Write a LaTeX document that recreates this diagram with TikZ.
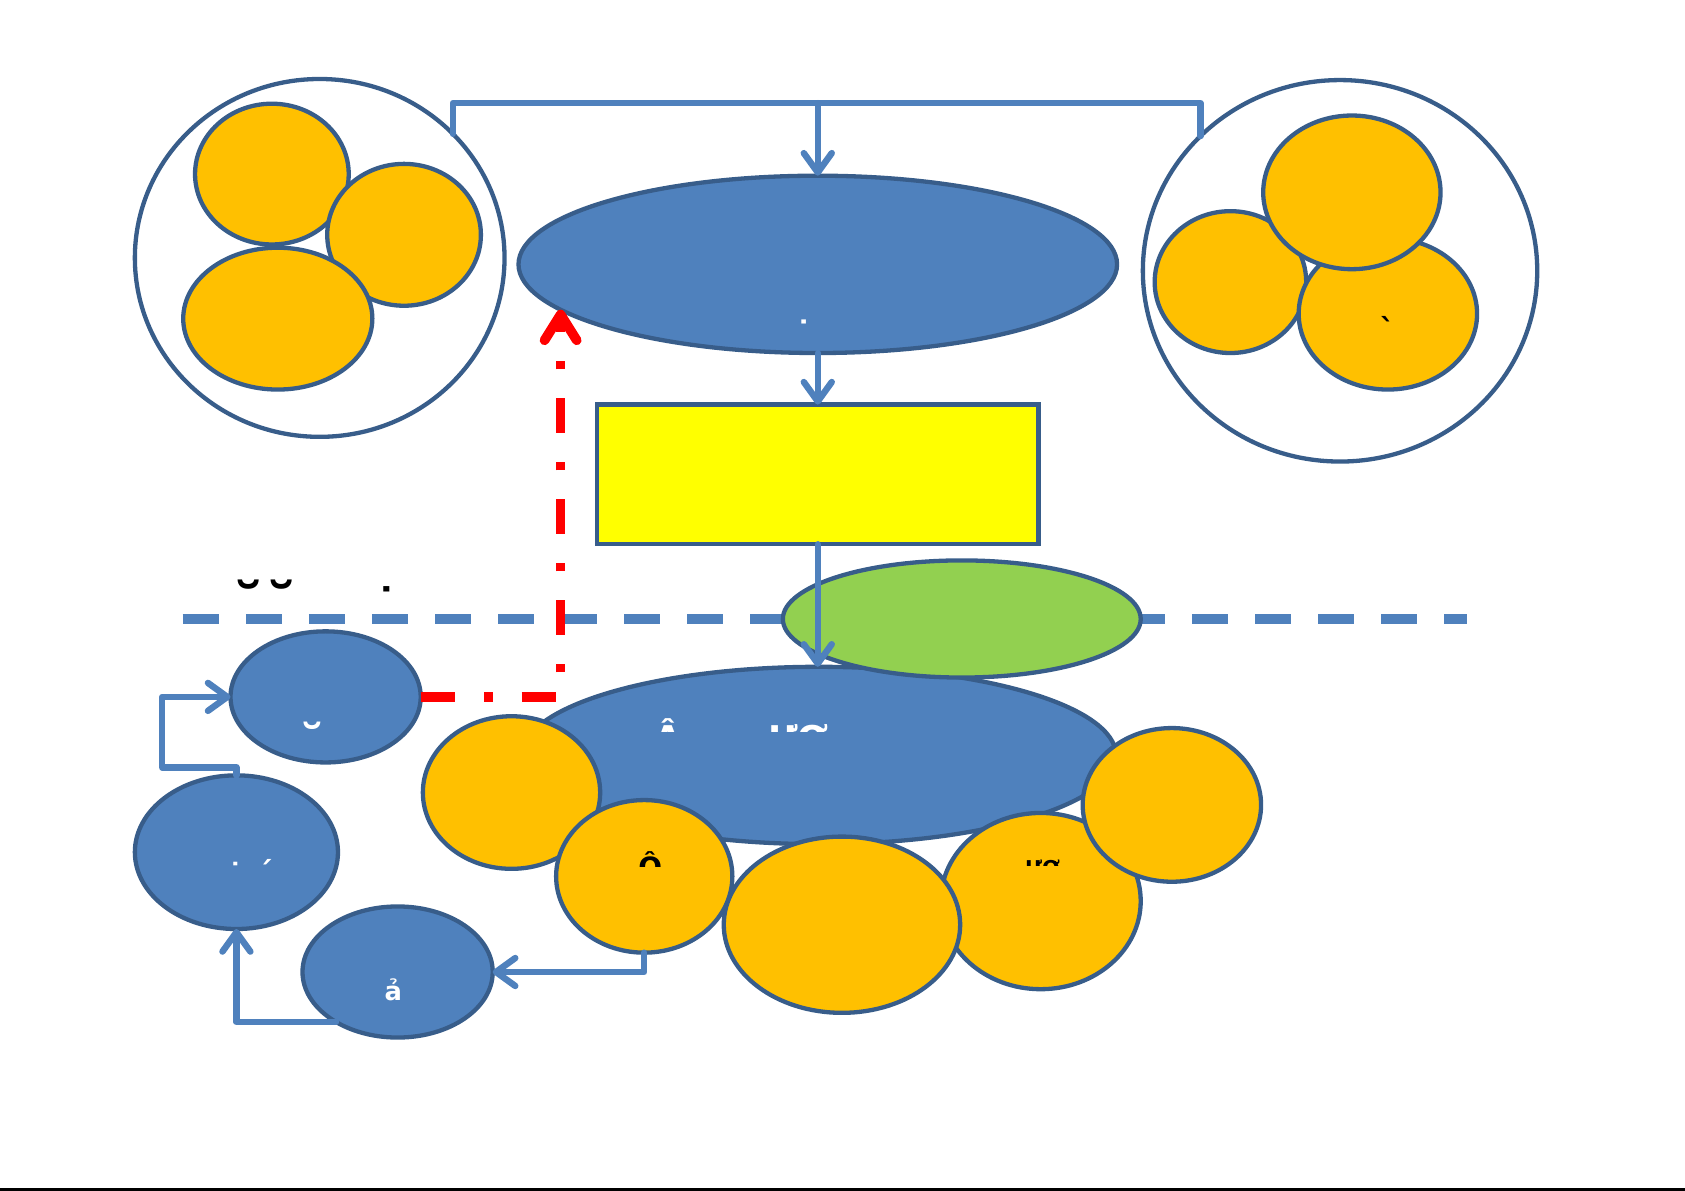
\documentclass[tikz,border=0pt]{standalone}
\usepackage{fontspec}
\setmainfont{DejaVu Sans}
\usetikzlibrary{shapes.geometric,arrows.meta}
\definecolor{fillblue}{HTML}{4F81BD}
\definecolor{edgeblue}{HTML}{385D8A}
\definecolor{orng}{HTML}{FFC000}
\definecolor{grn}{HTML}{92D050}
\definecolor{yel}{HTML}{FFFF00}
\definecolor{redc}{HTML}{FF0000}
\tikzset{
  ell/.style={ellipse, draw=edgeblue, line width=4pt, inner sep=0pt, outer sep=0pt},
  ring/.style={ell, fill=white},
  bluee/.style={ell, fill=fillblue},
  orangee/.style={ell, fill=orng},
  greene/.style={ell, fill=grn},
  yelbox/.style={rectangle, draw=edgeblue, fill=yel, line width=4pt, inner sep=0pt, outer sep=0pt},
  conn/.style={draw=fillblue, line width=6pt, line cap=round, line join=round},
  arr/.style={conn, -{Straight Barb[length=18pt,width=26pt,round]}},
  dashline/.style={draw=fillblue, line width=9pt, dash pattern=on 33.5pt off 25.2pt},
  redline/.style={draw=redc, line width=9pt, dash pattern=on 32pt off 27pt on 8pt off 27pt,
    -{Straight Barb[length=24pt,width=30pt,round]}},
  frag/.style={inner sep=0pt, outer sep=0pt, font=\bfseries\fontsize{#1}{#1}\selectfont}
}
\begin{document}
\begin{tikzpicture}[x=1pt,y=-1pt]
\useasboundingbox (0,0) rectangle (1568,1108);
\fill[black] (0,1105.5) rectangle (1568,1108);

% top-left group
\node[ring, minimum width=344pt, minimum height=333pt] (tlc) at (297.5,240) {};
\node[orangee, minimum width=143pt, minimum height=131pt] (oa) at (253,162) {};
\node[orangee, minimum width=143pt, minimum height=132pt] (ob) at (376,218.5) {};
\node[orangee, minimum width=176pt, minimum height=132pt] (oc) at (258.5,296.5) {};

% top-right group
\node[ring, minimum width=367pt, minimum height=355pt] (trc) at (1247,252) {};
\node[orangee, minimum width=141pt, minimum height=132pt] (od) at (1145,262.5) {};
\node[orangee, minimum width=166pt, minimum height=141pt] (oe) at (1291.5,292) {};
\node[orangee, minimum width=165pt, minimum height=143pt] (of) at (1258,179) {};

% bracket on top
\coordinate (bar) at (761,96);
\draw[conn] (tlc.43.9) |- (bar) -| (trc.136.34);

% main ellipse and box
\node[bluee, minimum width=557pt, minimum height=165pt] (top) at (761,246) {};
\draw[arr] (bar) -- (top.north);
\node[yelbox, minimum width=411pt, minimum height=130pt] (box) at (761,441.5) {};
\draw[arr] (top.south) -- (box.north);

% dashed separator
\coordinate (dl) at (170,576);
\coordinate (dr) at (1365,576);
\draw[dashline] (dl) -- (dr);

% lower big ellipse and its satellites
\node[bluee, minimum width=553pt, minimum height=165pt] (big) at (762,703) {};
\node[orangee, minimum width=165pt, minimum height=142pt] (og) at (476,737.5) {};
\node[orangee, minimum width=164pt, minimum height=142pt] (oh) at (599.5,815.5) {};
\node[orangee, minimum width=186pt, minimum height=164pt] (oj) at (968.5,838.5) {};
\node[orangee, minimum width=166pt, minimum height=143pt] (ok) at (1090.5,749) {};
\node[orangee, minimum width=220pt, minimum height=164pt] (oi) at (783.5,860.5) {};

% green ellipse
\node[greene, minimum width=333pt, minimum height=109pt] (gr) at (895,576) {};
\draw[arr] (box.south) -- (box.south |- big.north);

% left cycle
\node[bluee, minimum width=177pt, minimum height=122pt] (bl) at (303,648.5) {};
\node[bluee, minimum width=189pt, minimum height=143pt] (bm) at (220,793) {};
\node[bluee, minimum width=177pt, minimum height=122pt] (bn) at (370,904.5) {};
\coordinate (lp) at (151,714);
\draw[arr] (bm.north) |- (lp) |- (bl.west);
\draw[arr] (oh.south) |- (bn.east);
\draw[arr] (bn.219.6) -| (bm.south);

% red feedback
\draw[redline] (bl.east) -| (top.190.5);

% text fragments
\node[frag=60, text=black, anchor=north] (f1) at (231,540) {˘};
\node[frag=60, text=black, anchor=north] (f2) at (262,540) {˘};
\node[frag=42, text=black, anchor=north] (f3) at (360,546) {˙};
\node[frag=32, text=white, anchor=north] (f4) at (748,298) {˙};
\node[frag=28, text=black, anchor=north] (f5) at (1291,294) {ˋ};
\node[frag=48, text=white, anchor=north] (f6) at (291,672) {˘};
\node[frag=28, text=white, anchor=north] (f7) at (219,802) {˙};
\node[frag=28, text=white, anchor=north] (f8) at (247,800) {ˊ};
\node[frag=24, text=white] (f9) at (366,921) {ả};
\begin{scope}
  \clip (600,655) rectangle (645,681);
  \node[frag=33, text=white, anchor=base] (f10) at (622,699) {Â};
\end{scope}
\begin{scope}
  \clip (705,655) rectangle (790,681);
  \node[frag=33, text=white, anchor=base west] (f11) at (715,699) {ƯƠ};
\end{scope}
\begin{scope}
  \clip (585,780) rectangle (625,806);
  \node[frag=26, text=black, anchor=base] (f12) at (605,817) {Ô};
\end{scope}
\begin{scope}
  \clip (945,790) rectangle (995,805);
  \node[frag=19, text=black, anchor=base west] (f13) at (954,815) {ƯƠ};
\end{scope}
\end{tikzpicture}
\end{document}
